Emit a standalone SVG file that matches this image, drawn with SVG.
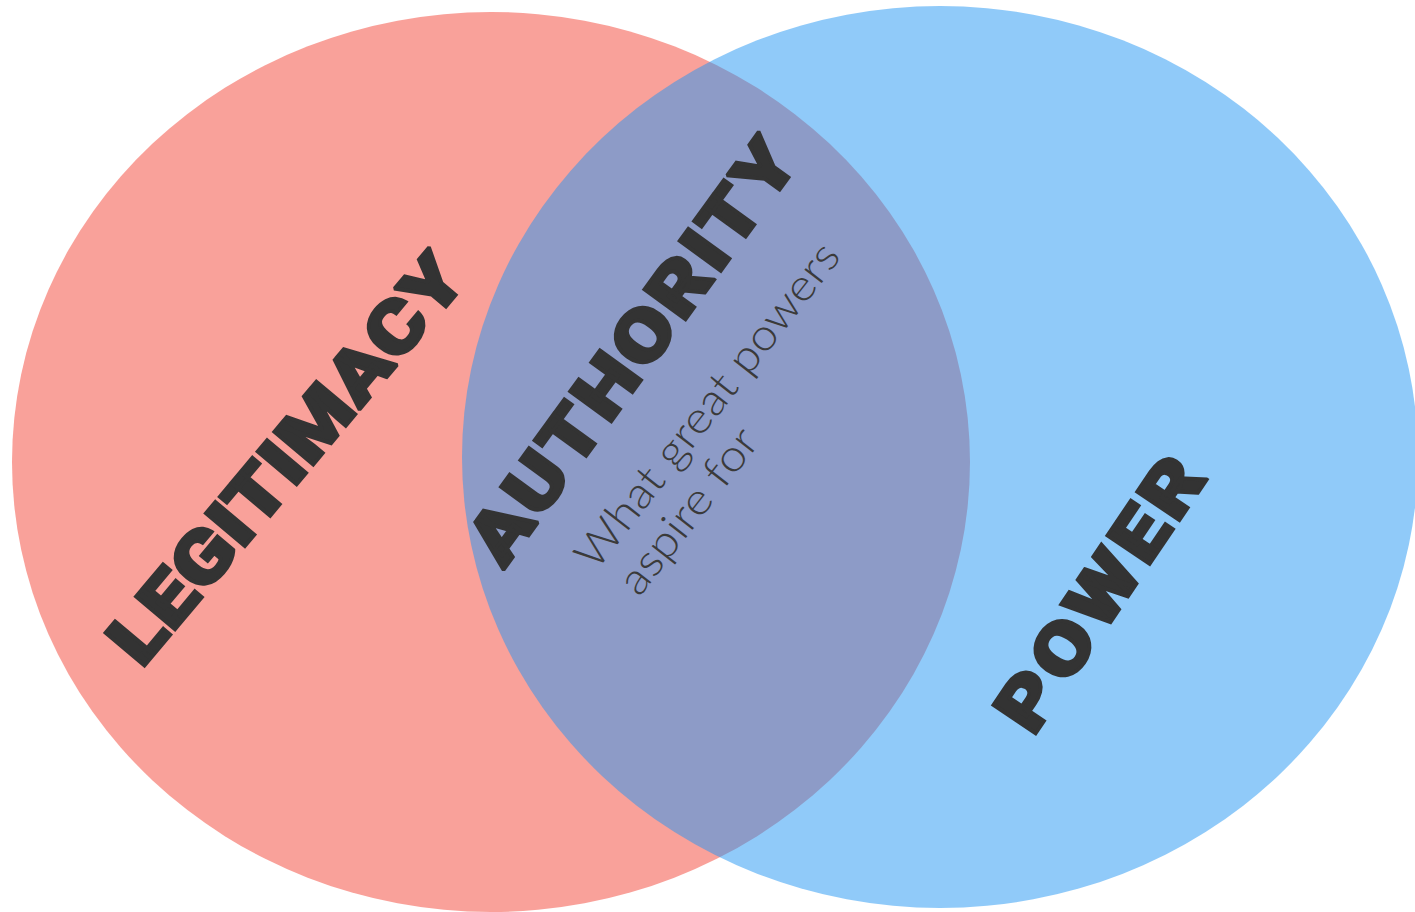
<svg xmlns="http://www.w3.org/2000/svg" width="1415" height="912" viewBox="0 0 1415 912">
  <style>
    .red { fill: #F44336; fill-opacity: 0.5; }
    .blue { fill: #2196F3; fill-opacity: 0.5; }
    .title { font-family: "Roboto", "Inter", "Open Sans", sans-serif; font-weight: 900; font-size: 72px; fill: #333333; stroke: #333333; stroke-width: 3.5px; stroke-linejoin: miter; stroke-miterlimit: 1.6; text-anchor: middle; }
    .sub { font-family: "Lato", "Open Sans", "Roboto", sans-serif; font-weight: 300; font-size: 44px; fill: #3a3a3a; }
  </style>
  <rect width="1415" height="912" fill="#ffffff"/>
  <g id="legitimacy">
    <ellipse class="red" cx="491" cy="462" rx="479" ry="450"/>
    <text class="title" transform="translate(285,458) rotate(-50) scale(1.18,1)" x="0" y="26" textLength="430" lengthAdjust="spacing">LEGITIMACY</text>
  </g>
  <g id="power">
    <ellipse class="blue" cx="940" cy="457" rx="478" ry="451"/>
    <text class="title" transform="translate(1099,593) rotate(-56) scale(1.18,1)" x="0" y="26" textLength="265" lengthAdjust="spacing">POWER</text>
  </g>
  <g id="authority">
    <text class="title" transform="translate(630,350) rotate(-54) scale(1.18,1)" x="0" y="27" textLength="427" lengthAdjust="spacing">AUTHORITY</text>
    <g transform="translate(596,572) rotate(-52)">
      <text class="sub" x="0" y="0" textLength="400" lengthAdjust="spacingAndGlyphs">What great powers</text>
      <text class="sub" x="6" y="50" textLength="198" lengthAdjust="spacingAndGlyphs">aspire for</text>
    </g>
  </g>
  <g id="connectors"/>
</svg>
